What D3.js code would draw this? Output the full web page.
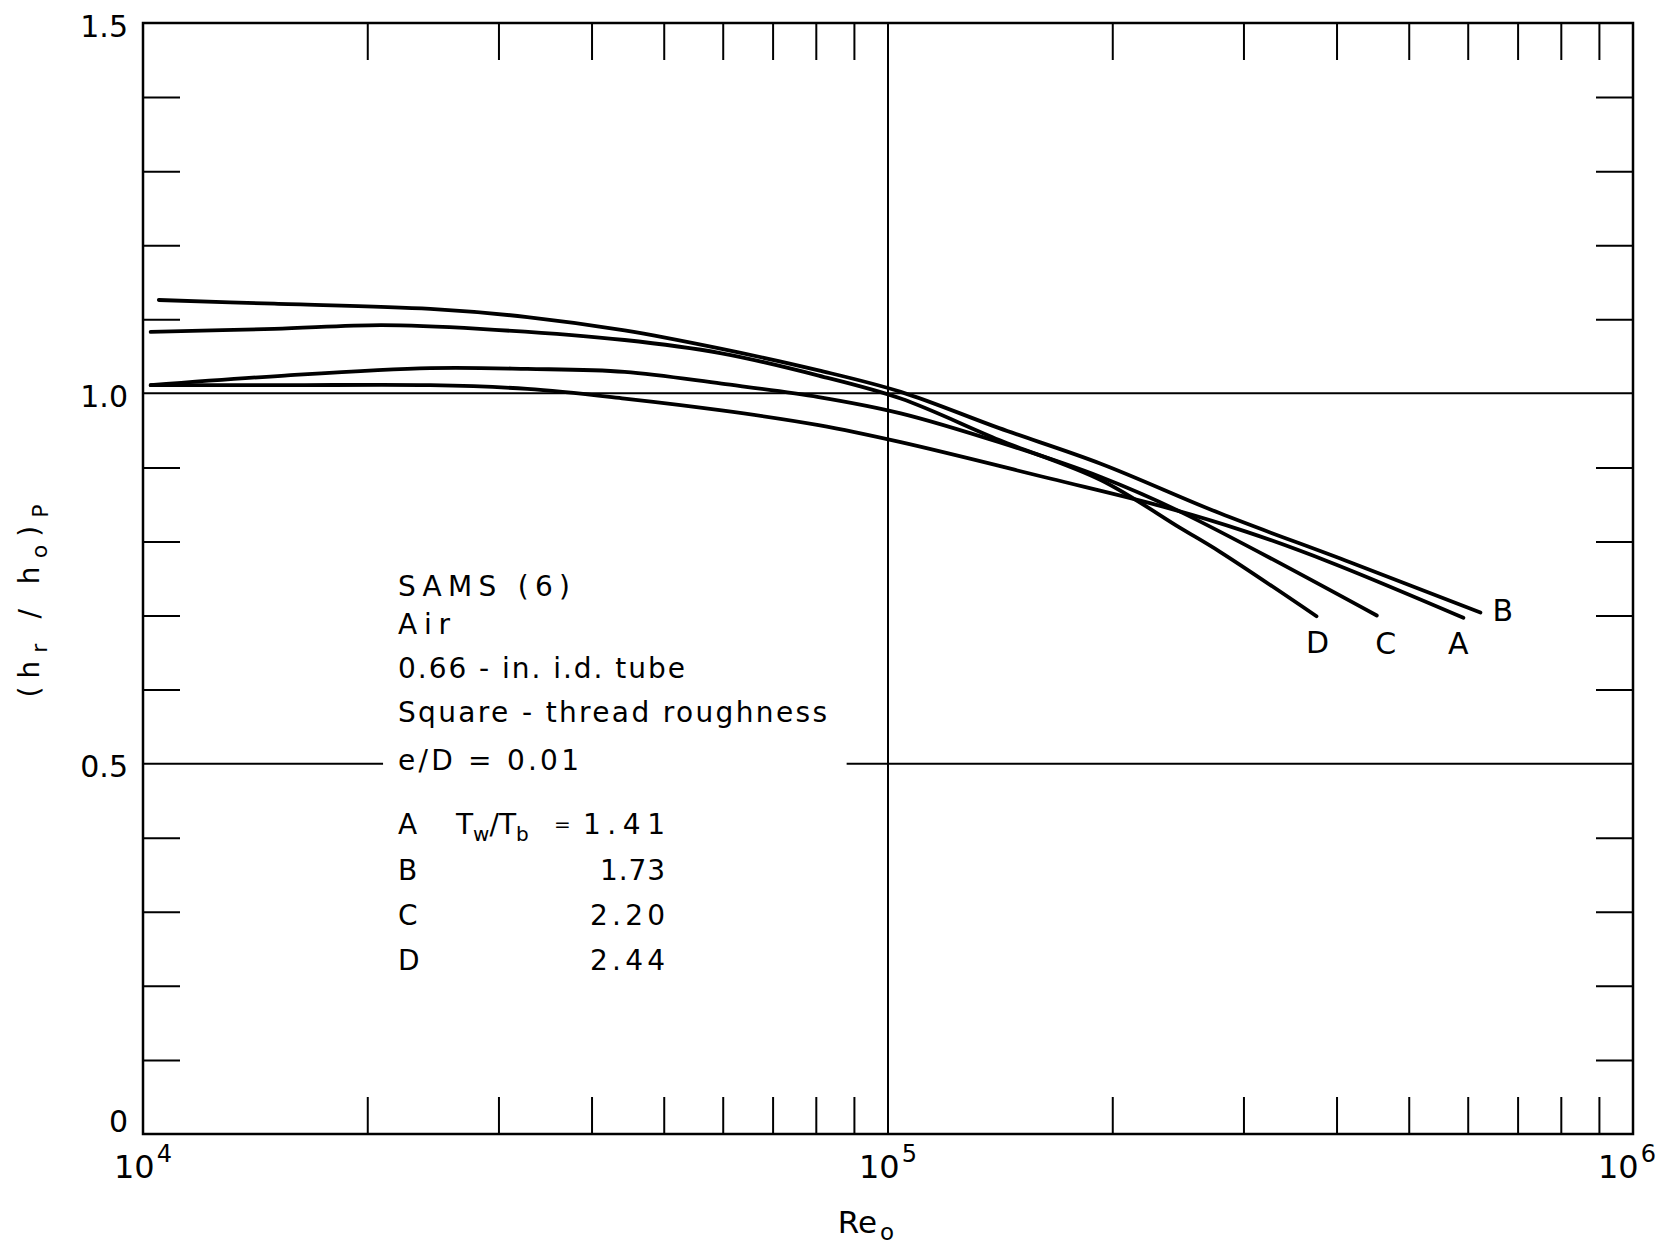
<!DOCTYPE html>
<html>
<head>
  <title>Sams (6) rough tube heat transfer ratio</title>
  <script src="https://d3js.org/d3.v7.min.js"></script>
  <style>
    body { margin: 0; background: #fff; }
    text { font-family: "DejaVu Sans", "Liberation Sans", sans-serif; fill: #000; }
  </style>
</head>
<body>
  <div id="chart"></div>

  <script>
    // curve data (Re, (hr/ho)p)
    const reA  = [1.024e4, 1.55e4, 2.43e4, 3.28e4, 4.43e4, 5.98e4, 8.07e4, 1.04e5, 1.65e5, 2.34e5, 3.03e5, 3.92e5, 5.92e5];
    const valA = [1.011, 1.011, 1.011, 1.006, 0.993, 0.977, 0.957, 0.934, 0.885, 0.847, 0.813, 0.772, 0.697];

    const reB  = [1.05e4, 1.5e4, 2.43e4, 3.28e4, 4.43e4, 5.98e4, 8.07e4, 1.04e5, 1.41e5, 1.93e5, 2.79e5, 4.17e5, 6.24e5];
    const valB = [1.126, 1.121, 1.114, 1.103, 1.085, 1.060, 1.031, 1.002, 0.953, 0.905, 0.838, 0.772, 0.704];

    const reC  = [1.024e4, 1.55e4, 2.43e4, 3.28e4, 4.43e4, 5.98e4, 8.07e4, 1.04e5, 1.41e5, 1.93e5, 2.47e5, 4.53e5];
    const valC = [1.011, 1.024, 1.034, 1.033, 1.029, 1.013, 0.995, 0.973, 0.934, 0.887, 0.840, 0.700];

    const reD  = [1.024e4, 1.5e4, 2.09e4, 2.83e4, 4.43e4, 5.98e4, 8.07e4, 1.04e5, 1.41e5, 1.93e5, 2.47e5, 2.79e5, 3.76e5];
    const valD = [1.083, 1.087, 1.092, 1.087, 1.072, 1.054, 1.024, 0.993, 0.937, 0.883, 0.818, 0.786, 0.699];

    const seriesNames = ["A", "B", "C", "D"];
    const ratioLabels = ["1.41", "1.73", "2.20", "2.44"];

    const xMajor = [1e4, 1e5, 1e6];
    const xExp = ["4", "5", "6"];
    const xMinor = [2e4, 3e4, 4e4, 5e4, 6e4, 7e4, 8e4, 9e4, 2e5, 3e5, 4e5, 5e5, 6e5, 7e5, 8e5, 9e5];
    const yLabelVals = [0, 0.5, 1.0, 1.5];
    const yLabels = ["0", "0.5", "1.0", "1.5"];
    const yMinor = [0.1, 0.2, 0.3, 0.4, 0.6, 0.7, 0.8, 0.9, 1.1, 1.2, 1.3, 1.4];

    const notes = ["SAMS (6)", "Air", "0.66 - in. i.d. tube", "Square - thread roughness", "e/D = 0.01"];

    // layout
    const W = 1670, H = 1245;
    const pLeft = 143, pRight = 1633, pTop = 23, pBottom = 1134;
    const tickLen = 37;

    const svg = d3.select("#chart").append("svg")
      .attr("width", W).attr("height", H)
      .style("background", "#fff");

    const x = d3.scaleLog().domain([1e4, 1e6]).range([pLeft, pRight]);
    const y = d3.scaleLinear().domain([0, 1.5]).range([pBottom, pTop]);

    // inward ticks on all four sides
    function tickAxis(axis, tx, ty) {
      const g = svg.append("g").attr("transform", `translate(${tx},${ty})`).call(axis);
      g.select(".domain").remove();
      g.selectAll(".tick line").attr("stroke", "#000").attr("stroke-width", 2);
    }
    tickAxis(d3.axisBottom(x).tickValues(xMinor).tickSize(-tickLen).tickFormat(""), 0, pBottom);
    tickAxis(d3.axisTop(x).tickValues(xMinor).tickSize(-tickLen).tickFormat(""), 0, pTop);
    tickAxis(d3.axisLeft(y).tickValues(yMinor).tickSize(-tickLen).tickFormat(""), pLeft, 0);
    tickAxis(d3.axisRight(y).tickValues(yMinor).tickSize(-tickLen).tickFormat(""), pRight, 0);

    // grid lines at 10^5, 1.0 and (broken) 0.5
    svg.append("line")
      .attr("x1", x(1e5)).attr("x2", x(1e5)).attr("y1", pTop).attr("y2", pBottom)
      .attr("stroke", "#000").attr("stroke-width", 2);
    svg.append("line")
      .attr("x1", pLeft).attr("x2", pRight).attr("y1", y(1.0)).attr("y2", y(1.0))
      .attr("stroke", "#000").attr("stroke-width", 2);
    const halfGap = [2.1e4, 8.8e4];
    [[1e4, halfGap[0]], [halfGap[1], 1e6]].forEach(s => {
      svg.append("line")
        .attr("x1", x(s[0])).attr("x2", x(s[1])).attr("y1", y(0.5)).attr("y2", y(0.5))
        .attr("stroke", "#000").attr("stroke-width", 2);
    });

    // frame
    svg.append("rect")
      .attr("x", pLeft).attr("y", pTop).attr("width", pRight - pLeft).attr("height", pBottom - pTop)
      .attr("fill", "none").attr("stroke", "#000").attr("stroke-width", 2.5);

    // y tick labels
    svg.selectAll(".ylab").data(yLabelVals).enter().append("text")
      .attr("x", pLeft - 15)
      .attr("y", d => y(d) + (d === 0 ? -13 : 3))
      .attr("dy", "0.36em")
      .attr("text-anchor", "end")
      .attr("font-size", 30)
      .text((d, i) => yLabels[i]);

    // x tick labels, 10 with superscript
    xMajor.forEach((v, i) => {
      const t = svg.append("text")
        .attr("x", x(v) - (i === 2 ? 6 : 0)).attr("y", 1178)
        .attr("text-anchor", "middle")
        .attr("font-size", 32);
      t.append("tspan").text("10");
      t.append("tspan").attr("font-size", 24).attr("dy", -16).attr("dx", 2).text(xExp[i]);
    });

    // axis titles
    const xt = svg.append("text")
      .attr("x", 866).attr("y", 1233)
      .attr("text-anchor", "middle")
      .attr("font-size", 31);
    xt.append("tspan").text("Re");
    xt.append("tspan").attr("font-size", 23).attr("dy", 7).attr("dx", 3).text("o");

    const yt = svg.append("text")
      .attr("transform", "translate(39,601) rotate(-90)")
      .attr("text-anchor", "middle")
      .attr("font-size", 28)
      .attr("textLength", 193)
      .attr("lengthAdjust", "spacing");
    yt.append("tspan").text("(h");
    yt.append("tspan").attr("font-size", 22).attr("dy", 8).text("r");
    yt.append("tspan").attr("dy", -8).text(" / h");
    yt.append("tspan").attr("font-size", 22).attr("dy", 8).text("o");
    yt.append("tspan").attr("dy", -8).text(")");
    yt.append("tspan").attr("font-size", 22).attr("dy", 9).text("P");

    // curves
    const series = [
      { name: "A", re: reA, val: valA },
      { name: "B", re: reB, val: valB },
      { name: "C", re: reC, val: valC },
      { name: "D", re: reD, val: valD }
    ];

    const line = d3.line()
      .x(d => x(d[0]))
      .y(d => y(d[1]))
      .curve(d3.curveCatmullRom.alpha(0.5));

    series.forEach(s => {
      const pts = s.re.map((r, i) => [r, s.val[i]]);
      svg.append("path")
        .datum(pts)
        .attr("fill", "none")
        .attr("stroke", "#000")
        .attr("stroke-width", 3.8)
        .attr("stroke-linecap", "round")
        .attr("d", line);
    });

    // curve end labels
    const endLabel = {
      A: { dx: -5, dy: 36, anchor: "middle" },
      B: { dx: 12, dy: 8, anchor: "start" },
      C: { dx: 9, dy: 38, anchor: "middle" },
      D: { dx: 1, dy: 37, anchor: "middle" }
    };
    series.forEach(s => {
      const n = s.re.length - 1;
      const o = endLabel[s.name];
      svg.append("text")
        .attr("x", x(s.re[n]) + o.dx)
        .attr("y", y(s.val[n]) + o.dy)
        .attr("text-anchor", o.anchor)
        .attr("font-size", 30)
        .text(s.name);
    });

    // notes block
    const noteX = 398;
    const noteY = [596, 634, 678, 722, 770];
    const noteW = [172, 52, 287, 429, 181];
    notes.forEach((t, i) => {
      svg.append("text")
        .attr("x", noteX).attr("y", noteY[i])
        .attr("font-size", 28)
        .attr("textLength", noteW[i])
        .attr("lengthAdjust", "spacing")
        .text(t);
    });

    const rowY = [834, 880, 925, 970];
    const ratioW = [82, 65, 75, 75];
    seriesNames.forEach((n, i) => {
      svg.append("text")
        .attr("x", noteX).attr("y", rowY[i])
        .attr("font-size", 28)
        .text(n);
      svg.append("text")
        .attr("x", 665).attr("y", rowY[i])
        .attr("text-anchor", "end")
        .attr("font-size", 28)
        .attr("textLength", ratioW[i])
        .attr("lengthAdjust", "spacing")
        .text(ratioLabels[i]);
    });
    const tr = svg.append("text")
      .attr("x", 456).attr("y", rowY[0])
      .attr("font-size", 28);
    tr.append("tspan").text("T");
    tr.append("tspan").attr("font-size", 20).attr("dy", 7).text("w");
    tr.append("tspan").attr("dy", -7).text("/T");
    tr.append("tspan").attr("font-size", 20).attr("dy", 7).text("b");
    svg.append("text")
      .attr("x", 554).attr("y", rowY[0] - 3)
      .attr("font-size", 20)
      .text("=");
  </script>
</body>
</html>
